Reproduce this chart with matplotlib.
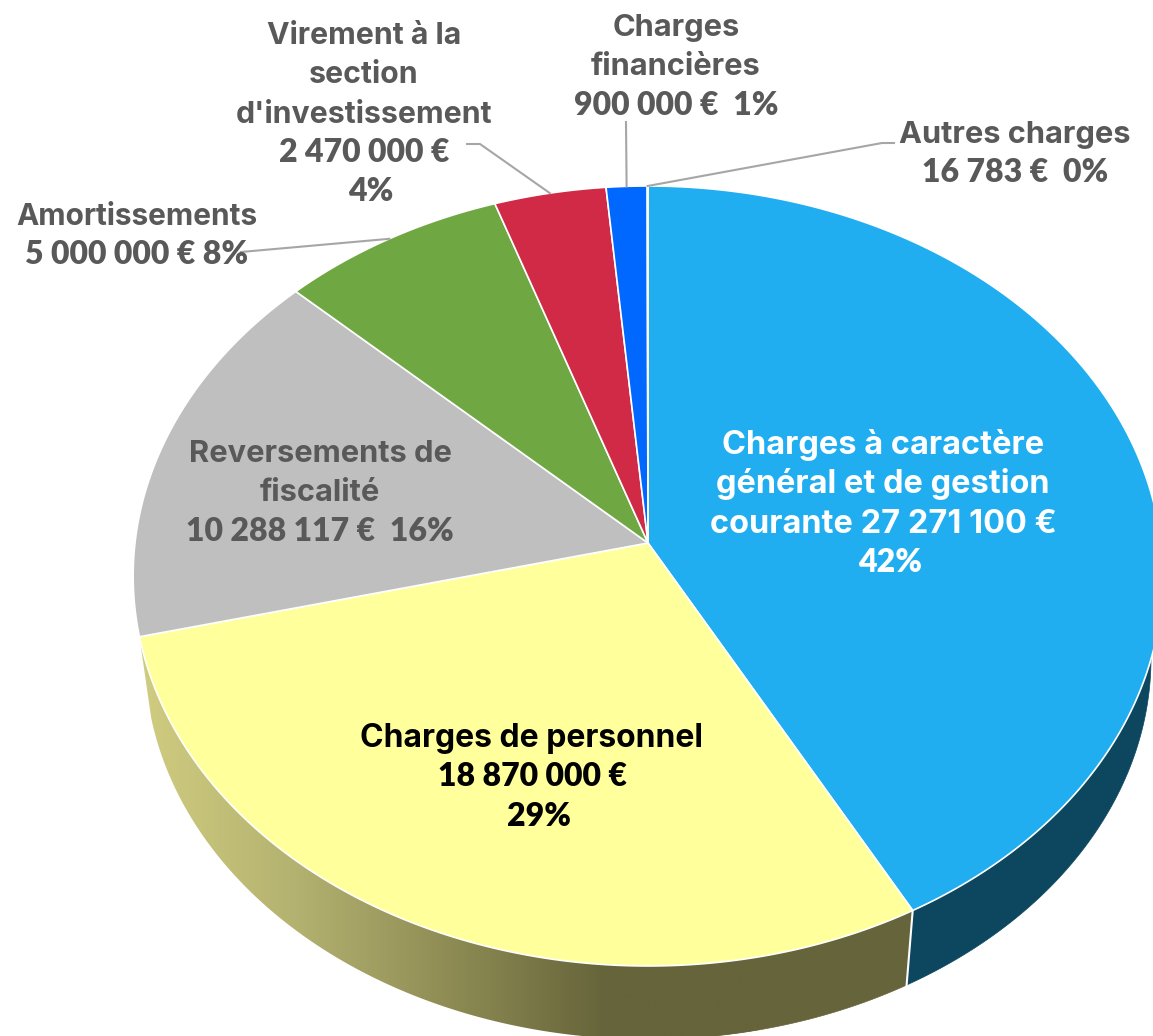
import numpy as np
import matplotlib.pyplot as plt
from matplotlib.colors import LinearSegmentedColormap
from matplotlib.patches import Polygon

categories = ["Charges à caractère général et de gestion courante", "Charges de personnel",
              "Reversements de fiscalité", "Amortissements",
              "Virement à la section d'investissement", "Charges financières", "Autres charges"]
values = [27271100, 18870000, 10288117, 5000000, 2470000, 900000, 16783]
colors = ["#20AEF1", "#FFFF9C", "#BFBFBF", "#6FA742", "#D02A46", "#0068FF", "#9DC3E6"]
blue_wall = "#0D465F"
yellow_wall = ["#D0CC80", "#B4B270", "#8E8C54", "#66643A", "#66643A"]

cx, cy = 648, 543
a, b, k = 513, 387.2, 0.0846
drop, shrink = 83, 0.977


def project(angle, low=False):
    # angle in degrees clockwise from the top of the pie
    t = np.radians(angle)
    px = a * np.sin(t) / (1 + k * np.cos(t))
    py = -b * np.cos(t) / (1 + k * np.cos(t))
    if low:
        return cx + shrink * px, cy + drop + shrink * py
    return cx + px, cy + py


def wall_outline(start, stop):
    angles = np.linspace(start, stop, 300)
    x0, y0 = project(angles)
    x1, y1 = project(angles[::-1], True)
    return np.column_stack([np.r_[x0, x1], np.r_[y0, y1]])


fig = plt.figure(figsize=(11.53, 10.36), dpi=100)
ax = fig.add_axes([0, 0, 1, 1])

edges = np.concatenate([[0], np.cumsum(values) / np.sum(values) * 360])

# side wall: only blue and yellow are seen from the front
ax.fill(*wall_outline(80, edges[1]).T, color=blue_wall, lw=0.5, zorder=1)

fade = LinearSegmentedColormap.from_list("fade", yellow_wall)
ramp = np.linspace(0, 1, 512).reshape(1, -1)
im = ax.imshow(ramp, extent=[140, 760, 1040, 620], aspect="auto", cmap=fade, zorder=1)
wall_clip = Polygon(wall_outline(edges[1], edges[2]), transform=ax.transData)
im.set_clip_path(wall_clip)
ax.fill(*wall_outline(edges[1], 180).T, color=yellow_wall[-1], lw=0.5, zorder=0.5)

ax.set_xlim(0, 1153)
ax.set_ylim(1036, 0)
ax.axis("off")

# white seam where the blue and yellow walls meet
ax.plot(*zip(project(edges[1]), project(edges[1], True)), color="white", lw=1.5, zorder=2)

# top of the pie
for i in range(len(values)):
    angles = np.linspace(edges[i], edges[i + 1], 200)
    xs, ys = project(angles)
    ax.fill(np.r_[cx, xs], np.r_[cy, ys], facecolor=colors[i], edgecolor="white", lw=1.2, zorder=3)

# leader lines
leaders = {3: [(241, 252)], 4: [(467, 144), (480, 144)], 5: [(626, 122)], 6: [(894, 143), (882, 143)]}
for i, pts in leaders.items():
    rim = project((edges[i] + edges[i + 1]) / 2)
    xs = [p[0] for p in pts] + [rim[0]]
    ys = [p[1] for p in pts] + [rim[1]]
    ax.plot(xs, ys, color="#A6A6A6", lw=1.5, zorder=4)

grey = "#595959"
labels = [
    (883, 454, 23.4, ["Charges à caractère", "général et de gestion", "courante 27 271 100 €", "42%"], "white"),
    (532, 747, 23, ["Charges de personnel", "18 870 000 €", "29%"], "black"),
    (320, 462, 22.2, ["Reversements de", "fiscalité", "10 288 117 €  16%"], grey),
    (137, 225, 21.5, ["Amortissements", "5 000 000 € 8%"], grey),
    (364, 44, 21.8, ["Virement à la", "section", "d'investissement", "2 470 000 €", "4%"], grey),
    (676, 36, 22.2, ["Charges", "financières", "900 000 €  1%"], grey),
    (1015, 143, 22.2, ["Autres charges", "16 783 €  0%"], grey),
]
for x, y, size, lines, c in labels:
    for n, line in enumerate(lines):
        # figures look closer to the original in Lato, words in Inter
        if line[0].isdigit():
            shift = 7 if len(line) < 4 else 0
            ax.text(x + shift, y + n * 39.3, line, ha="center", va="baseline", color=c, family="Lato",
                    fontsize=23, fontweight="heavy", zorder=5)
        else:
            ax.text(x, y + n * 39.3, line, ha="center", va="baseline", color=c, family="Inter",
                    fontsize=size, fontweight="bold", zorder=5)

fig.savefig("out.png", dpi=100)
